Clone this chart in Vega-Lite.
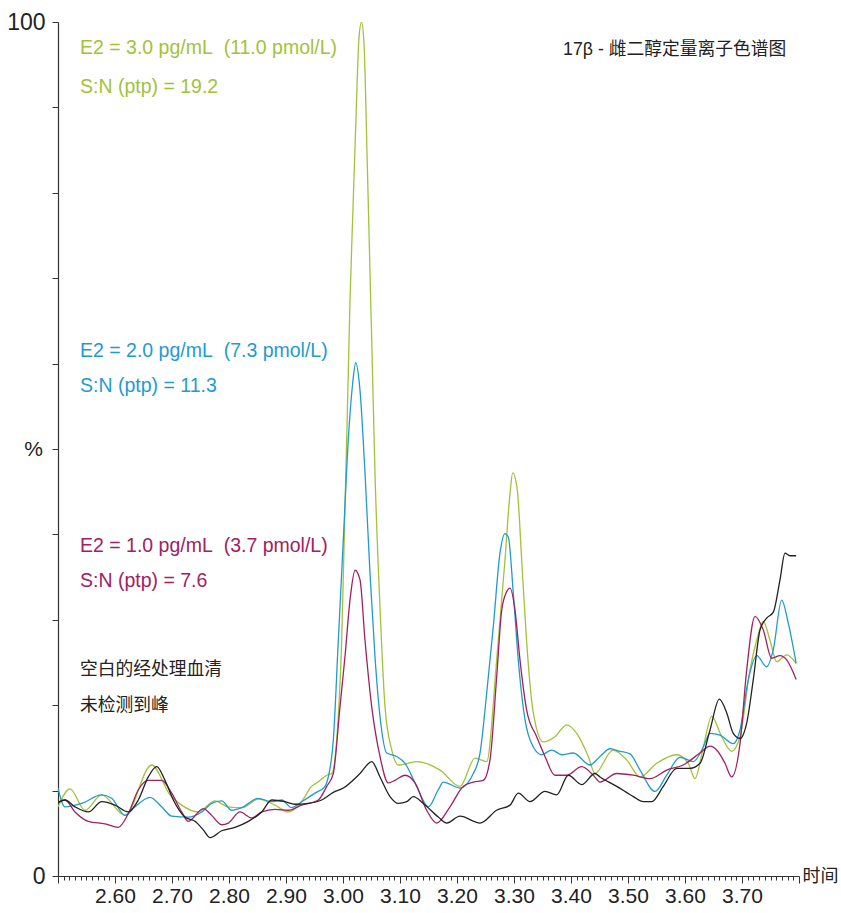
{
  "$schema": "https://vega.github.io/schema/vega-lite/v6.json",
  "width": 741,
  "height": 854,
  "autosize": {"type": "none"},
  "padding": {"left": 58, "top": 22, "right": 42, "bottom": 37},
  "background": "white",
  "config": {"view": {"stroke": null}, "font": "Liberation Sans"},
  "datasets": {
    "traces": [
      {"s": "g", "t": 2.5000, "v": 8.1}, {"s": "g", "t": 2.5211, "v": 10.2}, {"s": "g", "t": 2.5474, "v": 7.7}, {"s": "g", "t": 2.5767, "v": 9.5}, {"s": "g", "t": 2.6175, "v": 7.1}, {"s": "g", "t": 2.6644, "v": 13.0}, {"s": "g", "t": 2.6965, "v": 9.5}, {"s": "g", "t": 2.7170, "v": 8.3}, {"s": "g", "t": 2.7456, "v": 7.5}, {"s": "g", "t": 2.7754, "v": 8.8}, {"s": "g", "t": 2.7982, "v": 8.1}, {"s": "g", "t": 2.8228, "v": 8.0}, {"s": "g", "t": 2.8509, "v": 9.0}, {"s": "g", "t": 2.8807, "v": 8.3}, {"s": "g", "t": 2.9035, "v": 7.5}, {"s": "g", "t": 2.9333, "v": 9.3}, {"s": "g", "t": 2.9421, "v": 10.3}, {"s": "g", "t": 2.9561, "v": 11.0}, {"s": "g", "t": 2.9719, "v": 11.8}, {"s": "g", "t": 2.9802, "v": 12.0}, {"s": "g", "t": 2.9889, "v": 15.9}, {"s": "g", "t": 2.9977, "v": 27.6}, {"s": "g", "t": 3.0035, "v": 43.2}, {"s": "g", "t": 3.0093, "v": 58.9}, {"s": "g", "t": 3.0123, "v": 67.4}, {"s": "g", "t": 3.0175, "v": 78.1}, {"s": "g", "t": 3.0228, "v": 88.8}, {"s": "g", "t": 3.0281, "v": 98.2}, {"s": "g", "t": 3.0325, "v": 100}, {"s": "g", "t": 3.0368, "v": 97.5}, {"s": "g", "t": 3.0427, "v": 83.1}, {"s": "g", "t": 3.0486, "v": 67.4}, {"s": "g", "t": 3.0504, "v": 62.8}, {"s": "g", "t": 3.0561, "v": 47.2}, {"s": "g", "t": 3.0649, "v": 31.5}, {"s": "g", "t": 3.0737, "v": 19.8}, {"s": "g", "t": 3.0854, "v": 14.8}, {"s": "g", "t": 3.0970, "v": 13.0}, {"s": "g", "t": 3.1293, "v": 13.4}, {"s": "g", "t": 3.1702, "v": 12.4}, {"s": "g", "t": 3.2053, "v": 10.5}, {"s": "g", "t": 3.2316, "v": 13.8}, {"s": "g", "t": 3.2521, "v": 13.4}, {"s": "g", "t": 3.2696, "v": 25.3}, {"s": "g", "t": 3.2842, "v": 37.0}, {"s": "g", "t": 3.2930, "v": 44.8}, {"s": "g", "t": 3.2977, "v": 47.2}, {"s": "g", "t": 3.3058, "v": 45.2}, {"s": "g", "t": 3.3135, "v": 37.0}, {"s": "g", "t": 3.3223, "v": 27.3}, {"s": "g", "t": 3.3339, "v": 19.1}, {"s": "g", "t": 3.3514, "v": 15.7}, {"s": "g", "t": 3.3719, "v": 16.3}, {"s": "g", "t": 3.3925, "v": 17.7}, {"s": "g", "t": 3.4100, "v": 16.7}, {"s": "g", "t": 3.4304, "v": 14.0}, {"s": "g", "t": 3.4421, "v": 12.0}, {"s": "g", "t": 3.4737, "v": 14.75}, {"s": "g", "t": 3.4977, "v": 13.6}, {"s": "g", "t": 3.5211, "v": 11.6}, {"s": "g", "t": 3.5504, "v": 13.2}, {"s": "g", "t": 3.5854, "v": 14.2}, {"s": "g", "t": 3.6058, "v": 13.2}, {"s": "g", "t": 3.6175, "v": 11.4}, {"s": "g", "t": 3.6321, "v": 15.1}, {"s": "g", "t": 3.6468, "v": 18.7}, {"s": "g", "t": 3.6644, "v": 16.3}, {"s": "g", "t": 3.6819, "v": 14.6}, {"s": "g", "t": 3.6965, "v": 16.3}, {"s": "g", "t": 3.7140, "v": 24.1}, {"s": "g", "t": 3.7258, "v": 27.6}, {"s": "g", "t": 3.7374, "v": 29.8}, {"s": "g", "t": 3.7491, "v": 27.6}, {"s": "g", "t": 3.7609, "v": 25.1}, {"s": "g", "t": 3.7784, "v": 25.9}, {"s": "g", "t": 3.7950, "v": 24.9},

      {"s": "b", "t": 2.5000, "v": 10.3}, {"s": "b", "t": 2.5123, "v": 8.1}, {"s": "b", "t": 2.5416, "v": 8.5}, {"s": "b", "t": 2.5767, "v": 9.5}, {"s": "b", "t": 2.5942, "v": 9.1}, {"s": "b", "t": 2.6175, "v": 7.1}, {"s": "b", "t": 2.6351, "v": 8.1}, {"s": "b", "t": 2.6614, "v": 9.2}, {"s": "b", "t": 2.6819, "v": 8.1}, {"s": "b", "t": 2.6995, "v": 7.0}, {"s": "b", "t": 2.7286, "v": 6.9}, {"s": "b", "t": 2.7521, "v": 7.5}, {"s": "b", "t": 2.7696, "v": 8.5}, {"s": "b", "t": 2.7872, "v": 8.8}, {"s": "b", "t": 2.8047, "v": 7.7}, {"s": "b", "t": 2.8223, "v": 8.0}, {"s": "b", "t": 2.8514, "v": 9.1}, {"s": "b", "t": 2.8749, "v": 8.7}, {"s": "b", "t": 2.8925, "v": 8.9}, {"s": "b", "t": 2.9100, "v": 8.0}, {"s": "b", "t": 2.9275, "v": 8.7}, {"s": "b", "t": 2.9509, "v": 9.7}, {"s": "b", "t": 2.9684, "v": 10.5}, {"s": "b", "t": 2.9742, "v": 11.6}, {"s": "b", "t": 2.9830, "v": 15.9}, {"s": "b", "t": 2.9918, "v": 27.6}, {"s": "b", "t": 3.0005, "v": 39.3}, {"s": "b", "t": 3.0093, "v": 51.1}, {"s": "b", "t": 3.0170, "v": 57.7}, {"s": "b", "t": 3.0223, "v": 60.1}, {"s": "b", "t": 3.0298, "v": 56.9}, {"s": "b", "t": 3.0386, "v": 47.2}, {"s": "b", "t": 3.0474, "v": 35.4}, {"s": "b", "t": 3.0561, "v": 25.7}, {"s": "b", "t": 3.0649, "v": 18.7}, {"s": "b", "t": 3.0767, "v": 14.4}, {"s": "b", "t": 3.0942, "v": 14.0}, {"s": "b", "t": 3.1088, "v": 13.2}, {"s": "b", "t": 3.1293, "v": 10.5}, {"s": "b", "t": 3.1496, "v": 8.1}, {"s": "b", "t": 3.1672, "v": 10.1}, {"s": "b", "t": 3.1760, "v": 11.0}, {"s": "b", "t": 3.2053, "v": 10.3}, {"s": "b", "t": 3.2286, "v": 12.0}, {"s": "b", "t": 3.2404, "v": 14.4}, {"s": "b", "t": 3.2521, "v": 21.4}, {"s": "b", "t": 3.2637, "v": 29.2}, {"s": "b", "t": 3.2754, "v": 37.8}, {"s": "b", "t": 3.2842, "v": 40.1}, {"s": "b", "t": 3.2900, "v": 39.7}, {"s": "b", "t": 3.2988, "v": 33.1}, {"s": "b", "t": 3.3075, "v": 25.3}, {"s": "b", "t": 3.3193, "v": 18.3}, {"s": "b", "t": 3.3339, "v": 15.1}, {"s": "b", "t": 3.3486, "v": 14.2}, {"s": "b", "t": 3.3661, "v": 14.75}, {"s": "b", "t": 3.3837, "v": 14.2}, {"s": "b", "t": 3.4040, "v": 14.4}, {"s": "b", "t": 3.4333, "v": 13.0}, {"s": "b", "t": 3.4509, "v": 14.0}, {"s": "b", "t": 3.4684, "v": 14.9}, {"s": "b", "t": 3.4860, "v": 14.6}, {"s": "b", "t": 3.5035, "v": 14.3}, {"s": "b", "t": 3.5211, "v": 12.4}, {"s": "b", "t": 3.5474, "v": 9.9}, {"s": "b", "t": 3.5679, "v": 11.8}, {"s": "b", "t": 3.5912, "v": 13.9}, {"s": "b", "t": 3.6146, "v": 13.4}, {"s": "b", "t": 3.6321, "v": 15.1}, {"s": "b", "t": 3.6439, "v": 16.7}, {"s": "b", "t": 3.6614, "v": 16.5}, {"s": "b", "t": 3.6847, "v": 15.5}, {"s": "b", "t": 3.6965, "v": 17.1}, {"s": "b", "t": 3.7111, "v": 23.0}, {"s": "b", "t": 3.7258, "v": 25.8}, {"s": "b", "t": 3.7433, "v": 24.5}, {"s": "b", "t": 3.7549, "v": 26.5}, {"s": "b", "t": 3.7696, "v": 32.3}, {"s": "b", "t": 3.7812, "v": 29.6}, {"s": "b", "t": 3.7950, "v": 24.9},

      {"s": "m", "t": 2.5000, "v": 8.6}, {"s": "m", "t": 2.5123, "v": 8.9}, {"s": "m", "t": 2.5298, "v": 7.5}, {"s": "m", "t": 2.5532, "v": 6.4}, {"s": "m", "t": 2.5825, "v": 6.1}, {"s": "m", "t": 2.6058, "v": 5.7}, {"s": "m", "t": 2.6233, "v": 7.3}, {"s": "m", "t": 2.6409, "v": 10.1}, {"s": "m", "t": 2.6584, "v": 11.2}, {"s": "m", "t": 2.6819, "v": 11.2}, {"s": "m", "t": 2.6995, "v": 9.7}, {"s": "m", "t": 2.7170, "v": 7.5}, {"s": "m", "t": 2.7286, "v": 6.4}, {"s": "m", "t": 2.7549, "v": 7.9}, {"s": "m", "t": 2.7696, "v": 7.1}, {"s": "m", "t": 2.7872, "v": 6.0}, {"s": "m", "t": 2.7988, "v": 6.2}, {"s": "m", "t": 2.8193, "v": 7.5}, {"s": "m", "t": 2.8398, "v": 6.8}, {"s": "m", "t": 2.8574, "v": 7.5}, {"s": "m", "t": 2.8807, "v": 7.8}, {"s": "m", "t": 2.9040, "v": 7.7}, {"s": "m", "t": 2.9275, "v": 8.3}, {"s": "m", "t": 2.9567, "v": 8.9}, {"s": "m", "t": 2.9714, "v": 10.5}, {"s": "m", "t": 2.9830, "v": 12.0}, {"s": "m", "t": 2.9947, "v": 19.8}, {"s": "m", "t": 3.0035, "v": 25.7}, {"s": "m", "t": 3.0123, "v": 32.3}, {"s": "m", "t": 3.0211, "v": 35.8}, {"s": "m", "t": 3.0298, "v": 34.7}, {"s": "m", "t": 3.0386, "v": 27.6}, {"s": "m", "t": 3.0504, "v": 19.8}, {"s": "m", "t": 3.0649, "v": 14.0}, {"s": "m", "t": 3.0795, "v": 10.9}, {"s": "m", "t": 3.0912, "v": 11.2}, {"s": "m", "t": 3.1088, "v": 11.8}, {"s": "m", "t": 3.1263, "v": 10.9}, {"s": "m", "t": 3.1468, "v": 7.7}, {"s": "m", "t": 3.1644, "v": 6.2}, {"s": "m", "t": 3.1877, "v": 8.1}, {"s": "m", "t": 3.2111, "v": 10.5}, {"s": "m", "t": 3.2286, "v": 11.0}, {"s": "m", "t": 3.2461, "v": 11.2}, {"s": "m", "t": 3.2579, "v": 13.6}, {"s": "m", "t": 3.2696, "v": 23.3}, {"s": "m", "t": 3.2784, "v": 31.1}, {"s": "m", "t": 3.2872, "v": 33.3}, {"s": "m", "t": 3.2930, "v": 33.7}, {"s": "m", "t": 3.3018, "v": 31.1}, {"s": "m", "t": 3.3105, "v": 25.3}, {"s": "m", "t": 3.3223, "v": 19.4}, {"s": "m", "t": 3.3398, "v": 16.3}, {"s": "m", "t": 3.3544, "v": 14.0}, {"s": "m", "t": 3.3719, "v": 11.8}, {"s": "m", "t": 3.3925, "v": 11.8}, {"s": "m", "t": 3.4188, "v": 12.8}, {"s": "m", "t": 3.4391, "v": 11.8}, {"s": "m", "t": 3.4509, "v": 11.0}, {"s": "m", "t": 3.4802, "v": 12.0}, {"s": "m", "t": 3.5093, "v": 11.8}, {"s": "m", "t": 3.5386, "v": 11.4}, {"s": "m", "t": 3.5679, "v": 12.4}, {"s": "m", "t": 3.5970, "v": 13.0}, {"s": "m", "t": 3.6263, "v": 14.4}, {"s": "m", "t": 3.6439, "v": 15.2}, {"s": "m", "t": 3.6556, "v": 14.75}, {"s": "m", "t": 3.6702, "v": 13.2}, {"s": "m", "t": 3.6819, "v": 11.6}, {"s": "m", "t": 3.6965, "v": 15.5}, {"s": "m", "t": 3.7082, "v": 24.1}, {"s": "m", "t": 3.7228, "v": 30.4}, {"s": "m", "t": 3.7374, "v": 28.8}, {"s": "m", "t": 3.7521, "v": 25.5}, {"s": "m", "t": 3.7667, "v": 25.8}, {"s": "m", "t": 3.7784, "v": 25.3}, {"s": "m", "t": 3.7950, "v": 23.0},

      {"s": "k", "t": 2.5000, "v": 8.6}, {"s": "k", "t": 2.5123, "v": 8.9}, {"s": "k", "t": 2.5298, "v": 8.1}, {"s": "k", "t": 2.5532, "v": 7.5}, {"s": "k", "t": 2.5767, "v": 8.7}, {"s": "k", "t": 2.6000, "v": 8.3}, {"s": "k", "t": 2.6233, "v": 7.5}, {"s": "k", "t": 2.6409, "v": 8.9}, {"s": "k", "t": 2.6584, "v": 11.6}, {"s": "k", "t": 2.6732, "v": 12.8}, {"s": "k", "t": 2.6877, "v": 11.2}, {"s": "k", "t": 2.7023, "v": 8.9}, {"s": "k", "t": 2.7228, "v": 6.9}, {"s": "k", "t": 2.7404, "v": 6.4}, {"s": "k", "t": 2.7549, "v": 5.4}, {"s": "k", "t": 2.7667, "v": 4.5}, {"s": "k", "t": 2.7872, "v": 5.3}, {"s": "k", "t": 2.8105, "v": 5.7}, {"s": "k", "t": 2.8339, "v": 6.4}, {"s": "k", "t": 2.8574, "v": 7.5}, {"s": "k", "t": 2.8749, "v": 8.9}, {"s": "k", "t": 2.8982, "v": 8.7}, {"s": "k", "t": 2.9158, "v": 8.4}, {"s": "k", "t": 2.9391, "v": 8.5}, {"s": "k", "t": 2.9626, "v": 8.9}, {"s": "k", "t": 2.9830, "v": 9.8}, {"s": "k", "t": 3.0005, "v": 10.3}, {"s": "k", "t": 3.0298, "v": 12.0}, {"s": "k", "t": 3.0504, "v": 13.4}, {"s": "k", "t": 3.0649, "v": 11.6}, {"s": "k", "t": 3.0825, "v": 9.3}, {"s": "k", "t": 3.0970, "v": 8.5}, {"s": "k", "t": 3.1118, "v": 8.7}, {"s": "k", "t": 3.1235, "v": 9.3}, {"s": "k", "t": 3.1409, "v": 8.5}, {"s": "k", "t": 3.1672, "v": 6.9}, {"s": "k", "t": 3.1819, "v": 6.2}, {"s": "k", "t": 3.2053, "v": 7.0}, {"s": "k", "t": 3.2404, "v": 6.2}, {"s": "k", "t": 3.2696, "v": 7.7}, {"s": "k", "t": 3.2930, "v": 8.3}, {"s": "k", "t": 3.3075, "v": 9.7}, {"s": "k", "t": 3.3281, "v": 8.7}, {"s": "k", "t": 3.3544, "v": 9.9}, {"s": "k", "t": 3.3749, "v": 9.5}, {"s": "k", "t": 3.3953, "v": 11.8}, {"s": "k", "t": 3.4188, "v": 10.7}, {"s": "k", "t": 3.4421, "v": 12.0}, {"s": "k", "t": 3.4509, "v": 11.6}, {"s": "k", "t": 3.4802, "v": 10.5}, {"s": "k", "t": 3.5093, "v": 9.3}, {"s": "k", "t": 3.5268, "v": 8.7}, {"s": "k", "t": 3.5416, "v": 8.7}, {"s": "k", "t": 3.5619, "v": 10.5}, {"s": "k", "t": 3.5854, "v": 12.6}, {"s": "k", "t": 3.6088, "v": 12.6}, {"s": "k", "t": 3.6263, "v": 13.2}, {"s": "k", "t": 3.6439, "v": 17.1}, {"s": "k", "t": 3.6602, "v": 20.7}, {"s": "k", "t": 3.6732, "v": 19.1}, {"s": "k", "t": 3.6847, "v": 16.7}, {"s": "k", "t": 3.6965, "v": 16.1}, {"s": "k", "t": 3.7082, "v": 17.9}, {"s": "k", "t": 3.7198, "v": 23.0}, {"s": "k", "t": 3.7316, "v": 28.8}, {"s": "k", "t": 3.7433, "v": 30.2}, {"s": "k", "t": 3.7549, "v": 30.9}, {"s": "k", "t": 3.7667, "v": 34.7}, {"s": "k", "t": 3.7754, "v": 37.8}, {"s": "k", "t": 3.7842, "v": 37.5}, {"s": "k", "t": 3.7950, "v": 37.5}
    ],
    "notes": [
      {"s": "g", "t": 2.5386, "v": 96.9, "label": "E2 = 3.0 pg/mL\u00a0 (11.0 pmol/L)"},
      {"s": "g", "t": 2.5386, "v": 92.4, "label": "S:N (ptp) = 19.2"},
      {"s": "b", "t": 2.5386, "v": 61.5, "label": "E2 = 2.0 pg/mL\u00a0 (7.3 pmol/L)"},
      {"s": "b", "t": 2.5386, "v": 57.4, "label": "S:N (ptp) = 11.3"},
      {"s": "m", "t": 2.5386, "v": 38.6, "label": "E2 = 1.0 pg/mL\u00a0 (3.7 pmol/L)"},
      {"s": "m", "t": 2.5386, "v": 34.5, "label": "S:N (ptp) = 7.6"}
    ],
    "cjk": [
      {"s": "k", "t": 2.5386, "v": 24.1, "label": "空白的经处理血清"},
      {"s": "k", "t": 2.5386, "v": 19.9, "label": "未检测到峰"},
      {"s": "k", "t": 3.386, "v": 96.7, "label": "17β - 雌二醇定量离子色谱图"}
    ]
  },
  "layer": [
    {
      "data": {"name": "traces"},
      "mark": {"type": "line", "strokeWidth": 1.3, "interpolate": "monotone", "clip": true},
      "encoding": {
        "x": {
          "field": "t", "type": "quantitative",
          "scale": {"domain": [2.5, 3.8], "nice": false, "zero": false},
          "axis": {
            "tickCount": 130,
            "labelExpr": "abs(datum.value*10 - round(datum.value*10)) < 0.01 && datum.value > 2.55 && datum.value < 3.75 ? format(datum.value, '.2f') : ''",
            "labelOverlap": false,
            "labelFlush": false,
            "labelFontSize": 21,
            "labelColor": "#222222",
            "labelPadding": 2,
            "tickColor": "#333333",
            "tickWidth": 1,
            "tickSize": {"condition": {"test": "abs(datum.value*10 - round(datum.value*10)) < 0.01", "value": 7}, "value": 4},
            "domainColor": "#333333",
            "domainWidth": 1.2,
            "grid": false,
            "title": "时间",
            "titleFont": "Noto Sans CJK SC",
            "titleFontSize": 18,
            "titleFontWeight": "normal",
            "titleColor": "#222222",
            "titleAlign": "left",
            "titleBaseline": "middle",
            "titleAnchor": null,
            "titleX": 744,
            "titleY": 0
          }
        },
        "y": {
          "field": "v", "type": "quantitative",
          "scale": {"domain": [0, 100], "nice": false},
          "axis": {
            "values": [0, 10, 20, 30, 40, 50, 60, 70, 80, 90, 100],
            "labelExpr": "datum.value == 0 || datum.value == 100 ? datum.value : ''",
            "labelFontSize": 23,
            "labelColor": "#222222",
            "labelPadding": 7,
            "labelOverlap": false,
            "labelFlush": false,
            "tickColor": "#333333",
            "tickSize": 6,
            "domainColor": "#333333",
            "domainWidth": 1.2,
            "grid": false,
            "title": "%",
            "titleFontSize": 21,
            "titleFontWeight": "normal",
            "titleColor": "#222222",
            "titleAngle": 0,
            "titleAlign": "center",
            "titleBaseline": "middle",
            "titleAnchor": null,
            "titleX": -25,
            "titleY": 427
          }
        },
        "color": {
          "field": "s", "type": "nominal",
          "scale": {"domain": ["g", "b", "m", "k"], "range": ["#a3c23a", "#1f9bd1", "#a3205f", "#222222"]},
          "legend": null
        },
        "order": {"field": "t", "type": "quantitative"}
      }
    },
    {
      "data": {"name": "notes"},
      "mark": {"type": "text", "align": "left", "baseline": "middle", "fontSize": 19.5, "font": "Liberation Sans"},
      "encoding": {
        "x": {"field": "t", "type": "quantitative"},
        "y": {"field": "v", "type": "quantitative"},
        "text": {"field": "label"},
        "color": {"field": "s", "type": "nominal", "legend": null}
      }
    },
    {
      "data": {"name": "cjk"},
      "mark": {"type": "text", "align": "left", "baseline": "middle", "fontSize": 17.75, "font": "Liberation Sans, Noto Sans CJK SC"},
      "encoding": {
        "x": {"field": "t", "type": "quantitative"},
        "y": {"field": "v", "type": "quantitative"},
        "text": {"field": "label"},
        "color": {"field": "s", "type": "nominal", "legend": null}
      }
    }
  ]
}
